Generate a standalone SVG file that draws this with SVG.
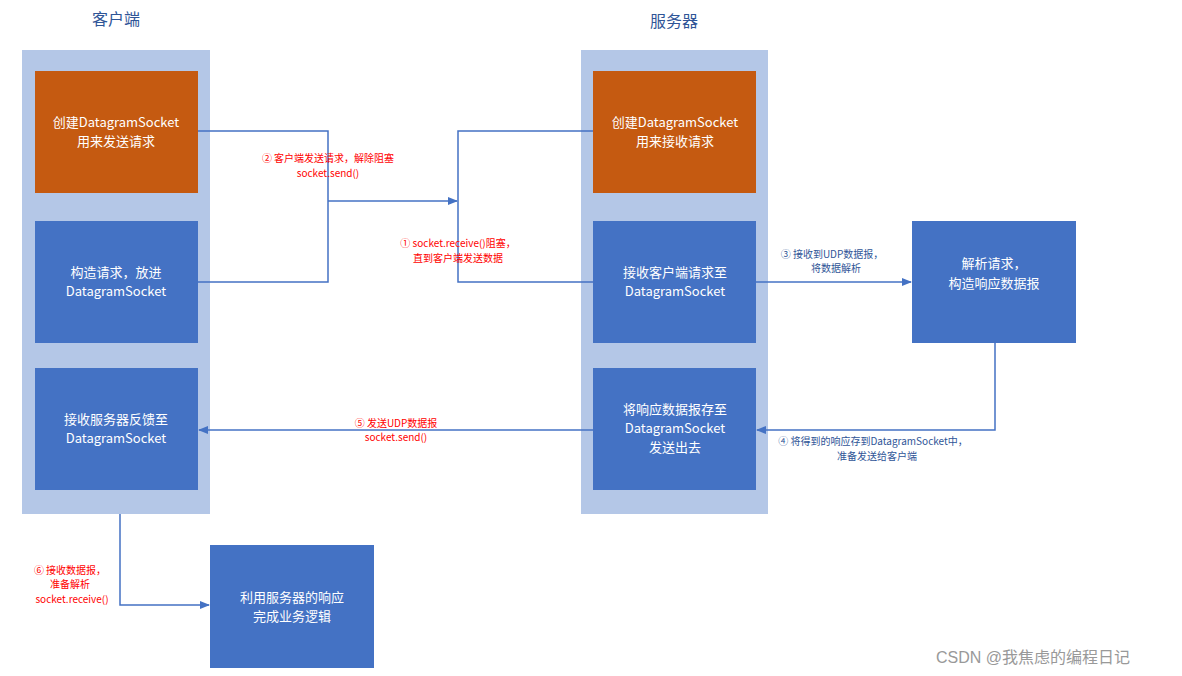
<svg xmlns="http://www.w3.org/2000/svg" width="1182" height="676" viewBox="0 0 1182 676">
<defs>
<marker id="a" markerWidth="10" markerHeight="8" refX="9" refY="4" orient="auto" markerUnits="userSpaceOnUse"><path d="M0,0 L10,4 L0,8 Z" fill="#4472c4"/></marker>
<style>
.col{fill:#b4c7e7}
.o{fill:#c55a11}
.b{fill:#4472c4}
.t{font-family:"Noto Sans CJK SC","Noto Sans",sans-serif;font-size:13px;fill:#fff;text-anchor:middle}
.h{font-family:"Noto Sans CJK SC",sans-serif;font-size:16px;fill:#2f5597;text-anchor:middle}
.r{font-family:"Noto Sans CJK SC",sans-serif;font-size:10px;fill:#ff0000;text-anchor:middle}
.bl{font-family:"Noto Sans CJK SC",sans-serif;font-size:10px;fill:#2f5597;text-anchor:middle}
.l{fill:none;stroke:#4472c4;stroke-width:1.5}
</style>
</defs>
<rect width="1182" height="676" fill="#fff"/>
<text class="h" x="116" y="25">客户端</text>
<text class="h" x="674" y="27">服务器</text>
<rect class="col" x="22" y="50" width="188" height="464"/>
<rect class="col" x="581" y="50" width="187" height="464"/>
<g id="c1"><rect class="o" x="35" y="71" width="163" height="122"/><text class="t" x="116" y="127">创建DatagramSocket</text><text class="t" x="116" y="146">用来发送请求</text></g>
<g id="c2"><rect class="b" x="35" y="221" width="163" height="122"/><text class="t" x="116" y="277">构造请求，放进</text><text class="t" x="116" y="296">DatagramSocket</text></g>
<g id="c3"><rect class="b" x="35" y="368" width="163" height="122"/><text class="t" x="116" y="424">接收服务器反馈至</text><text class="t" x="116" y="443">DatagramSocket</text></g>
<g id="s1"><rect class="o" x="593" y="71" width="163" height="122"/><text class="t" x="675" y="127">创建DatagramSocket</text><text class="t" x="675" y="146">用来接收请求</text></g>
<g id="s2"><rect class="b" x="593" y="221" width="163" height="122"/><text class="t" x="675" y="277">接收客户端请求至</text><text class="t" x="675" y="296">DatagramSocket</text></g>
<g id="s3"><rect class="b" x="593" y="368" width="163" height="122"/><text class="t" x="675" y="414">将响应数据报存至</text><text class="t" x="675" y="433">DatagramSocket</text><text class="t" x="675" y="452">发送出去</text></g>
<g id="p"><rect class="b" x="912" y="221" width="164" height="122"/><text class="t" x="994" y="268">解析请求，</text><text class="t" x="994" y="288">构造响应数据报</text></g>
<g id="f"><rect class="b" x="210" y="545" width="164" height="123"/><text class="t" x="292" y="602">利用服务器的响应</text><text class="t" x="292" y="621">完成业务逻辑</text></g>
<g id="connectors">
<path class="l" d="M198,131 H328 V282 H198"/>
<path class="l" d="M328,201 H457" marker-end="url(#a)"/>
<path class="l" d="M593,131 H458 V282 H593"/>
<path class="l" d="M756,282 H911" marker-end="url(#a)"/>
<path class="l" d="M995,343 V430 H757" marker-end="url(#a)"/>
<path class="l" d="M593,430 H199" marker-end="url(#a)"/>
<path class="l" d="M120,514 V605 H209" marker-end="url(#a)"/>
</g>
<text class="r" x="328" y="162">② 客户端发送请求，解除阻塞</text>
<text class="r" x="328" y="177">socket.send()</text>
<text class="r" x="458" y="247">① socket.receive()阻塞，</text>
<text class="r" x="458" y="262">直到客户端发送数据</text>
<text class="bl" x="832" y="258">③ 接收到UDP数据报，</text>
<text class="bl" x="836" y="272">将数据解析</text>
<text class="bl" x="873" y="445">④ 将得到的响应存到DatagramSocket中，</text>
<text class="bl" x="877" y="460">准备发送给客户端</text>
<text class="r" x="396" y="427">⑤ 发送UDP数据报</text>
<text class="r" x="396" y="441">socket.send()</text>
<text class="r" x="70" y="574">⑥ 接收数据报，</text>
<text class="r" x="70" y="588">准备解析</text>
<text class="r" x="72" y="603">socket.receive()</text>
<text x="936" y="663" font-family="'Liberation Sans','Noto Sans CJK SC',sans-serif" font-size="16" fill="#999">CSDN @我焦虑的编程日记</text>
</svg>
